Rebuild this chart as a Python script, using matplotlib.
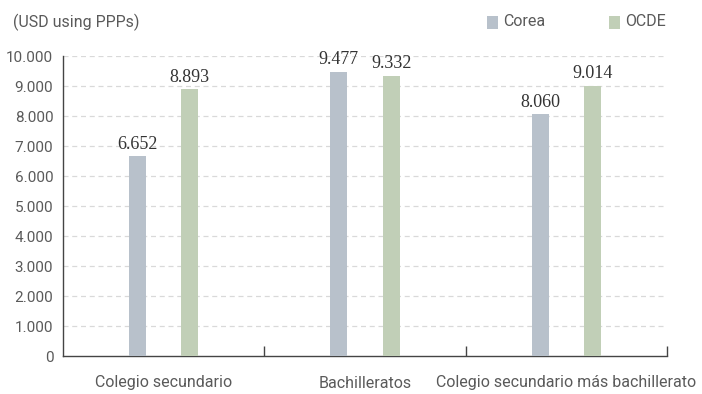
import matplotlib
matplotlib.use("Agg")
import matplotlib.pyplot as plt
import numpy as np
from matplotlib.patches import Rectangle

categories = ["Colegio secundario", "Bachilleratos", "Colegio secundario más bachillerato"]
series_names = ["Corea", "OCDE"]
corea = [6652, 9477, 8060]
ocde = [8893, 9332, 9014]
yticks = list(range(0, 10001, 1000))

c_corea = "#b8c1cb"
c_ocde = "#c1cfb7"
txt = "#5a5a5a"
sans = ["Roboto", "DejaVu Sans"]
serif = ["Liberation Serif", "DejaVu Serif"]

fig = plt.figure(figsize=(7.02, 3.94), dpi=100)
ax = fig.add_axes([63/702, 38/394, 604/702, 300/394])

x = np.arange(len(categories)) + 0.5
off = 0.13
w = 0.085
b1 = ax.bar(x - off, corea, w, color=c_corea, zorder=3)
b2 = ax.bar(x + off, ocde, w, color=c_ocde, zorder=3)

def fmt(v):
    return f"{v:,}".replace(",", ".")

for bars, vals in ((b1, corea), (b2, ocde)):
    for r, v in zip(bars, vals):
        ax.text(r.get_x() + r.get_width()/2, v + 120, fmt(v), ha="center", va="bottom",
                fontsize=13, family=serif, color="#333333")

ax.set_xlim(0, 3)
ax.set_ylim(0, 10000)
ax.set_yticks(yticks)
ax.set_yticklabels([fmt(t) for t in yticks], family=sans, fontsize=11, color=txt)
ax.tick_params(axis="y", length=0, pad=7)
for t in yticks[1:]:
    ax.axhline(t, color="#d9d9d9", lw=0.9, ls=(0, (4, 3)), zorder=1)

ax.set_xticks([1, 2, 3])
ax.set_xticklabels([])
ax.tick_params(axis="x", direction="in", length=7, color="#444444", width=1)
for xi, lab in zip(x, categories):
    ax.text(xi, -0.065, lab, transform=ax.get_xaxis_transform(), ha="center", va="top",
            family=sans, fontsize=11.5, color=txt)

for s in ("top", "right"):
    ax.spines[s].set_visible(False)
ax.spines["left"].set_color("#444444")
ax.spines["bottom"].set_color("#444444")
ax.spines["left"].set_linewidth(1)
ax.spines["bottom"].set_linewidth(1)

fig.text(13/702, 1 - 22/394, "(USD using PPPs)", family=sans, fontsize=11.5, color=txt, va="center")
# legend
for name, col, px in ((series_names[0], c_corea, 487), (series_names[1], c_ocde, 609)):
    fig.patches.append(Rectangle((px/702, 1 - 29/394), 11/702, 13/394, transform=fig.transFigure,
                                 facecolor=col, edgecolor="none"))
    fig.text((px + 16)/702, 1 - 22/394, name, family=sans, fontsize=11.5, color=txt, va="center")

fig.savefig("out.png", dpi=100)
